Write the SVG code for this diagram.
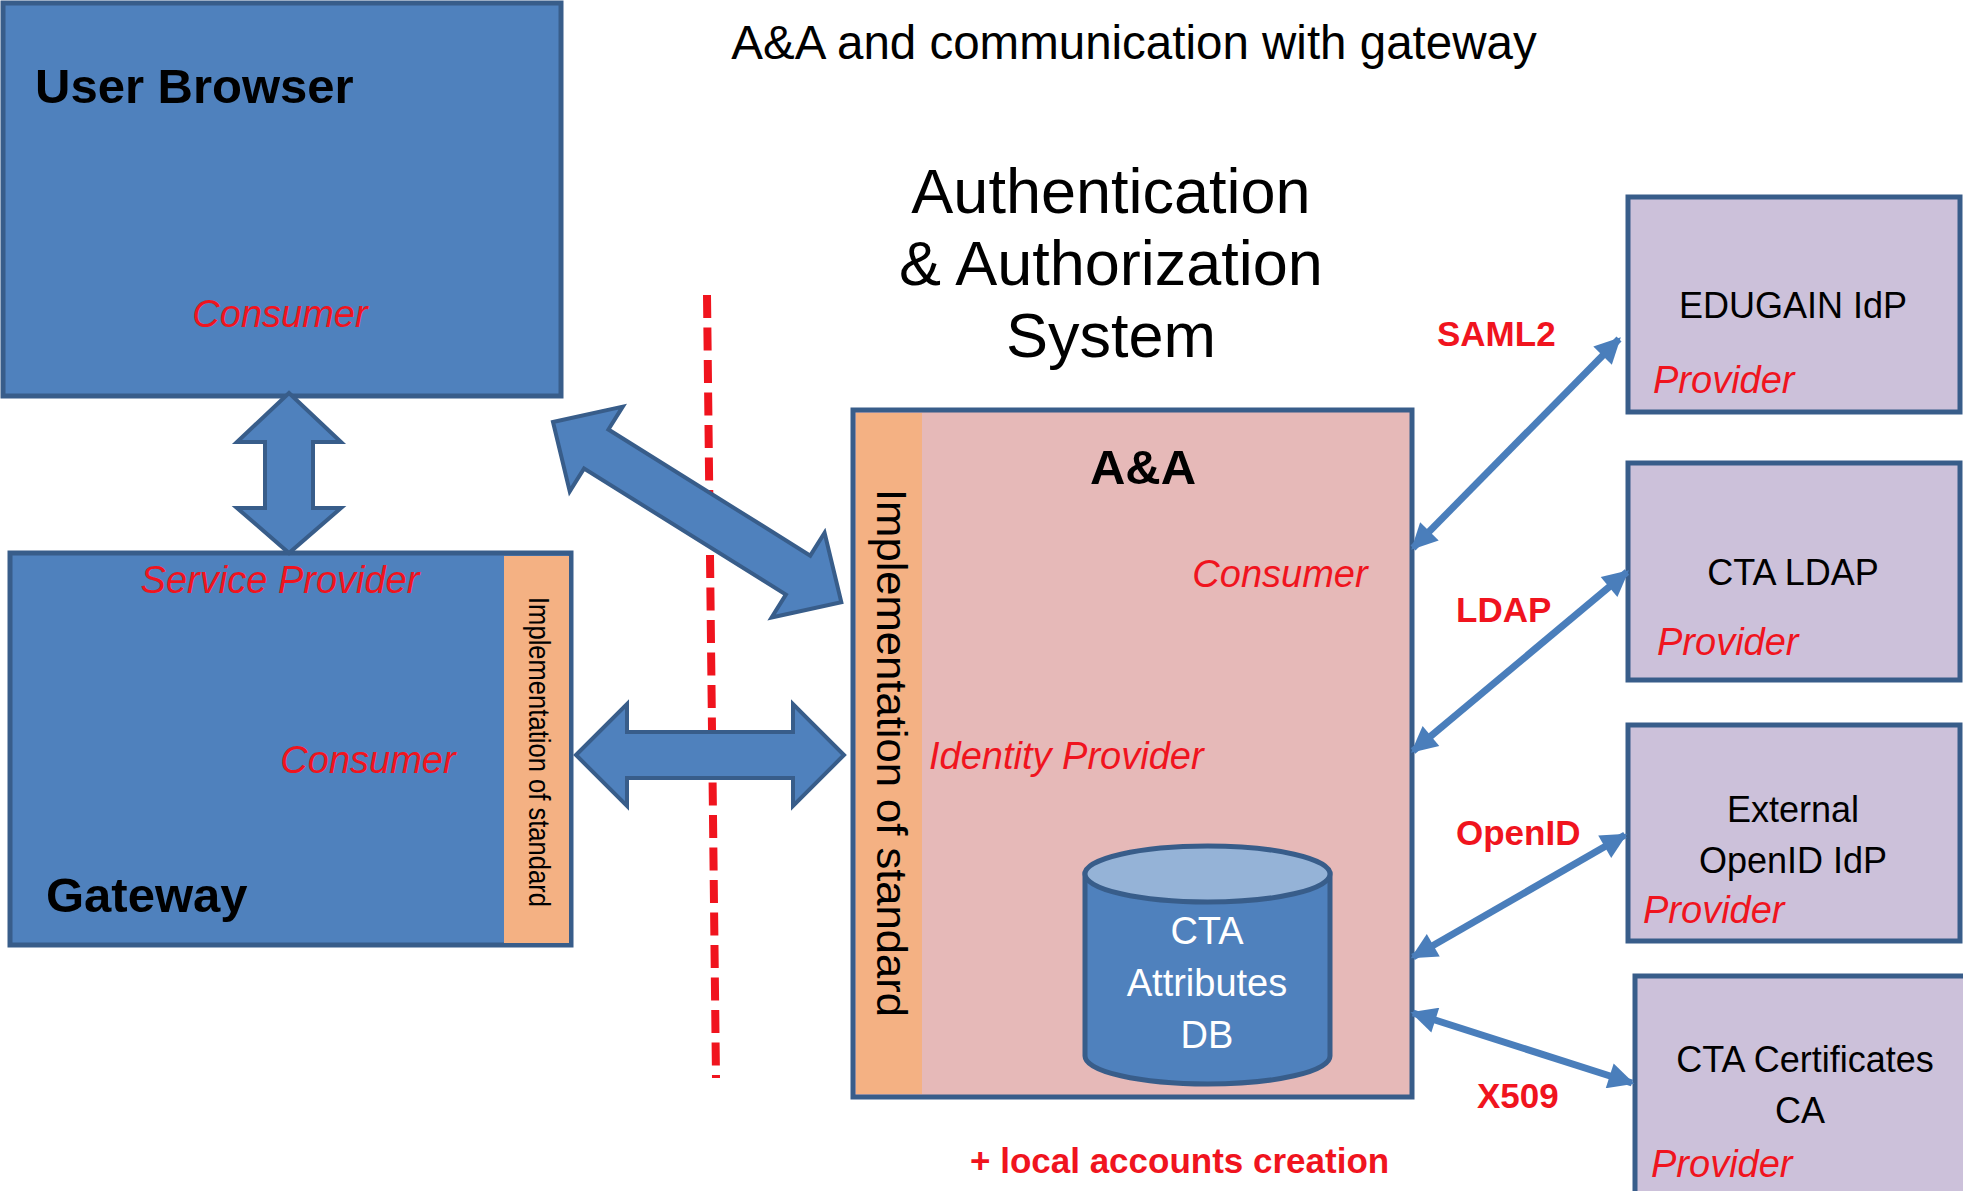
<svg xmlns="http://www.w3.org/2000/svg" width="1963" height="1191" viewBox="0 0 1963 1191">
<style>
.box{fill:#4f81bd;stroke:#385d8a;stroke-width:5}
.aa{fill:#e6b9b8;stroke:#385d8a;stroke-width:5}
.ext{fill:#ccc1da;stroke:#385d8a;stroke-width:5}
.strip{fill:#f4b183;stroke:none}
.blk{fill:#4f81bd;stroke:#385d8a;stroke-width:4;stroke-linejoin:miter}
.thin{stroke:#4a7ebb;stroke-width:7;fill:none}
.t{font-family:"Liberation Sans",Arial,sans-serif}
.title{font-family:"Liberation Sans",Arial,sans-serif;font-weight:bold;font-size:49px;fill:#000}
.red{font-family:"Liberation Sans",Arial,sans-serif;font-style:italic;font-size:38px;fill:#f0141e}
.proto{font-family:"Liberation Sans",Arial,sans-serif;font-weight:bold;font-size:35px;fill:#f0141e}
.name{font-family:"Liberation Sans",Arial,sans-serif;font-size:36px;fill:#000;text-anchor:middle}
</style>
<defs>
<marker id="ah" viewBox="0 0 10 10" refX="9" refY="5" markerUnits="userSpaceOnUse" markerWidth="30" markerHeight="26" orient="auto-start-reverse">
<path d="M0,0 L10,5 L0,10 Z" fill="#4a7ebb"/>
</marker>
</defs>
<rect width="1963" height="1191" fill="#ffffff"/>

<text class="t" x="1134" y="59" font-size="47.5" text-anchor="middle" fill="#000">A&amp;A and communication with gateway</text>

<g id="aa-system-title">
<text class="t" font-size="63" text-anchor="middle" fill="#000"><tspan x="1111" y="213">Authentication</tspan><tspan x="1111" y="285">&amp; Authorization</tspan><tspan x="1111" y="357">System</tspan></text>
</g>

<g id="user-browser">
<rect class="box" x="3" y="3" width="558" height="393"/>
<text class="title" x="35" y="103">User Browser</text>
<text class="red" x="280" y="327" text-anchor="middle">Consumer</text>
</g>

<g id="gateway">
<rect class="box" x="10" y="553" width="561" height="392"/>
<rect class="strip" x="504" y="556" width="65" height="387"/>
<text class="red" x="280" y="593" text-anchor="middle">Service Provider</text>
<text class="red" x="368" y="773" text-anchor="middle">Consumer</text>
<text class="title" x="46" y="912" font-size="50">Gateway</text>
<text class="t" font-size="30" fill="#000" transform="translate(529,597) rotate(90)" textLength="310" lengthAdjust="spacingAndGlyphs">Implementation of standard</text>
</g>

<g id="aa">
<rect class="aa" x="853" y="410" width="559" height="687"/>
<rect class="strip" x="856" y="413" width="66" height="681"/>
<text class="t" font-size="42" fill="#000" transform="translate(877,489) rotate(90)" textLength="528" lengthAdjust="spacingAndGlyphs">Implementation of standard</text>
<text class="title" x="1143" y="484" font-size="46" text-anchor="middle">A&amp;A</text>
<text class="red" x="1280" y="587" text-anchor="middle">Consumer</text>
<text class="red" x="929" y="769" font-size="40.5">Identity Provider</text>
</g>

<g id="attributes-db">
<path d="M1085,874 L1085,1056 A122.5,28 0 0 0 1330,1056 L1330,874 Z" fill="#4f81bd" stroke="#385d8a" stroke-width="5"/>
<ellipse cx="1207.5" cy="874" rx="122.5" ry="28" fill="#95b3d7" stroke="#385d8a" stroke-width="5"/>
<text class="t" font-size="38" fill="#fff" text-anchor="middle"><tspan x="1207" y="944">CTA</tspan><tspan x="1207" y="996">Attributes</tspan><tspan x="1207" y="1048">DB</tspan></text>
</g>

<g id="edugain">
<rect class="ext" x="1628" y="197" width="332" height="215"/>
<text class="name" x="1793" y="318">EDUGAIN IdP</text>
<text class="red" x="1653" y="393">Provider</text>
</g>

<g id="cta-ldap">
<rect class="ext" x="1628" y="463" width="332" height="217"/>
<text class="name" x="1793" y="585">CTA LDAP</text>
<text class="red" x="1657" y="655">Provider</text>
</g>

<g id="openid">
<rect class="ext" x="1628" y="725" width="332" height="216"/>
<text class="name" x="1793" y="822">External</text>
<text class="name" x="1793" y="873">OpenID IdP</text>
<text class="red" x="1643" y="923">Provider</text>
</g>

<g id="cta-ca">
<rect class="ext" x="1635" y="976" width="335" height="225"/>
<text class="name" x="1805" y="1072">CTA Certificates</text>
<text class="name" x="1800" y="1123">CA</text>
<text class="red" x="1651" y="1177">Provider</text>
</g>

<g id="connectors">
<line x1="707" y1="295" x2="716" y2="1078" stroke="#f0141e" stroke-width="8" stroke-dasharray="23 9.5"/>
<polygon class="blk" points="289,393 341,442 313,442 313,508 341,508 289,553 237,508 265,508 265,442 237,442"/>
<polygon class="blk" points="576,755 627,704 627,732 793,732 793,704 844,755 793,806 793,778 627,778 627,806"/>
<polygon class="blk" transform="translate(553,422) rotate(32)" points="0,0 51,-50 51,-23 289,-23 289,-50 340,0 289,50 289,23 51,23 51,50"/>
<line class="thin" x1="1413" y1="548" x2="1619" y2="339" marker-start="url(#ah)" marker-end="url(#ah)"/>
<line class="thin" x1="1413" y1="751" x2="1627" y2="572" marker-start="url(#ah)" marker-end="url(#ah)"/>
<line class="thin" x1="1413" y1="957" x2="1625" y2="835" marker-start="url(#ah)" marker-end="url(#ah)"/>
<line class="thin" x1="1413" y1="1013" x2="1632" y2="1083" marker-start="url(#ah)" marker-end="url(#ah)"/>
</g>

<g id="labels">
<text class="proto" x="1437" y="346">SAML2</text>
<text class="proto" x="1456" y="622">LDAP</text>
<text class="proto" x="1456" y="845">OpenID</text>
<text class="proto" x="1477" y="1108">X509</text>
<text class="proto" x="970" y="1173" font-size="36.5">+ local accounts creation</text>
</g>
</svg>
